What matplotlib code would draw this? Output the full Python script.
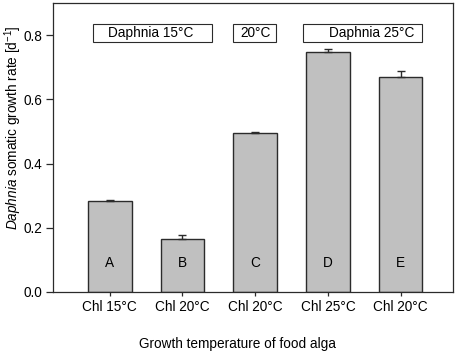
import numpy as np
import matplotlib; matplotlib.use("Agg")
import matplotlib.pyplot as plt
from matplotlib.patches import Rectangle

plt.rcParams["font.family"] = ["Liberation Sans", "DejaVu Sans"]
plt.rcParams["mathtext.fontset"] = "custom"
plt.rcParams["mathtext.rm"] = "Liberation Sans"
plt.rcParams["mathtext.it"] = "Liberation Sans:italic"

# data
categories = ["Chl 15°C", "Chl 20°C", "Chl 20°C", "Chl 25°C", "Chl 20°C"]
letters = ["A", "B", "C", "D", "E"]
rates = [0.283, 0.165, 0.496, 0.747, 0.669]
err_up = [0.003, 0.013, 0.003, 0.009, 0.019]
groups = ["Daphnia 15°C", "20°C", "Daphnia 25°C"]
group_span = [(-0.23, 1.41), (1.70, 2.29), (2.66, 4.30)]
group_text_x = [0.56, 2.0, 3.6]

fig = plt.figure(figsize=(4.59, 3.55), dpi=100)
ax = fig.add_axes([0.1155, 0.1775, 0.8715, 0.814])
x = np.arange(len(rates))
ax.bar(x, rates, width=0.6, color="#c0c0c0", edgecolor="#2b2b2b", lw=1.0, zorder=2)
ax.errorbar(x, rates, yerr=[np.zeros(len(rates)), err_up], fmt="none",
            ecolor="#2b2b2b", elinewidth=1.0, capsize=3, capthick=1.0, zorder=3)
for xi, l in zip(x, letters):
    ax.text(xi, 0.09, l, ha="center", va="center", fontsize=9.8)

for (a, b), g, tx in zip(group_span, groups, group_text_x):
    ax.add_patch(Rectangle((a, 0.779), b - a, 0.056, fill=False,
                           edgecolor="#2b2b2b", lw=0.8, zorder=4))
    ax.text(tx, 0.807, g, ha="center", va="center", fontsize=9.8)

ax.set_xlim(-0.78, 4.72); ax.set_ylim(0, 0.9)
ax.set_yticks([0, 0.2, 0.4, 0.6, 0.8])
ax.set_yticklabels(["0.0", "0.2", "0.4", "0.6", "0.8"])
ax.set_xticks(x); ax.set_xticklabels(categories)
ax.tick_params(axis="y", direction="out", length=5, width=0.9, pad=3, labelsize=9.8, color="#2b2b2b")
ax.tick_params(axis="x", direction="out", length=3, width=0.9, pad=3, labelsize=9.8, color="#2b2b2b")
for s in ax.spines.values():
    s.set_color("#2b2b2b"); s.set_linewidth(0.9)

ax.set_ylabel(r"$\it{Daphnia}$ somatic growth rate [d$^{-1}$]", fontsize=9.8)
ax.yaxis.set_label_coords(-0.072, 0.57)
ax.set_xlabel("Growth temperature of food alga", fontsize=9.8)
ax.xaxis.set_label_coords(0.46, -0.155)

fig.savefig("out.png", dpi=100)
